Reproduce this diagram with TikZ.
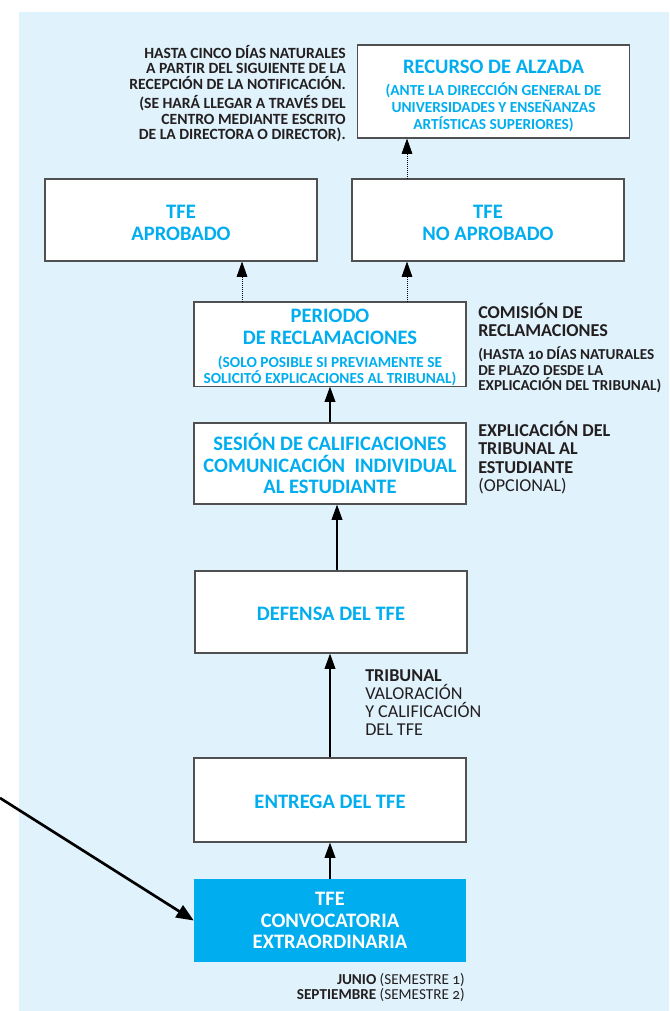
\documentclass[tikz,border=0pt]{standalone}
\usepackage{fontspec}
\setmainfont{Carlito}[Numbers=OldStyle]
\usetikzlibrary{arrows.meta,calc}
\definecolor{bgblue}{RGB}{224,242,252}
\definecolor{cyantext}{RGB}{0,174,239}
\definecolor{boxfill}{RGB}{0,174,239}
\definecolor{ink}{RGB}{35,31,32}
\definecolor{frame}{RGB}{80,80,80}
\newcommand\bigf{\fontsize{15.4}{16.2}\selectfont}
\newcommand\smallf{\fontsize{11.5}{12.2}\selectfont}
\newcommand\midf{\fontsize{13.6}{13.7}\selectfont}
\newcommand\notef{\fontsize{11.4}{11.6}\selectfont}
\newcommand\pushdown[1]{\rule{0pt}{#1}}
\begin{document}
\begin{tikzpicture}[x=0.75pt,y=-0.75pt,
  box/.style={draw=frame, line width=0.8pt, fill=white, minimum width=204pt,
    minimum height=61.5pt, inner sep=0pt, align=center, text=cyantext,
    font=\bfseries\bigf},
  bluebox/.style={fill=boxfill, minimum width=204pt, minimum height=62.25pt,
    inner sep=0pt, align=center, text=white, font=\bfseries\bigf},
  note/.style={inner sep=0pt, text=ink, font=\bfseries\notef},
  side/.style={inner sep=0pt, text=ink, align=left, anchor=north west},
  solidarrow/.style={draw=black, line width=1.2pt, -{Triangle[length=11.5pt,width=8pt]}},
  dotarrow/.style={draw=black, line width=0.6pt, dash pattern=on 0.6pt off 0.9pt,
    -{Triangle[length=11.5pt,width=8pt]}},
  bigarrow/.style={draw=black, line width=2pt, -{Triangle[length=13pt,width=10.5pt]}}
]
\useasboundingbox (0,0) rectangle (669,1011);
\fill[bgblue] (19,12) rectangle (669,1011);

% boxes
\node[box, minimum height=69.75pt] (recurso) at (493.5,91.5)
  {\pushdown{17pt}RECURSO DE ALZADA\\[0pt]
   {\smallf (ANTE LA DIRECCIÓN GENERAL DE}\\[-3.5pt]
   {\smallf UNIVERSIDADES Y ENSEÑANZAS}\\[-3.5pt]
   {\smallf ARTÍSTICAS SUPERIORES)}};
\node[box] (aprob) at (181,220) {\pushdown{14pt}TFE\\APROBADO};
\node[box] (noaprob) at (488,220) {\pushdown{14pt}TFE\\NO APROBADO};
\node[box] (periodo) at (330,344)
  {\pushdown{15.5pt}PERIODO\\DE RECLAMACIONES\\[1pt]
   {\smallf (SOLO POSIBLE SI PREVIAMENTE SE}\\[-3.8pt]
   {\smallf SOLICITÓ EXPLICACIONES AL TRIBUNAL)}};
\node[box, minimum height=60.75pt] (sesion) at (330,463.5)
  {SESIÓN DE CALIFICACIONES\\COMUNICACIÓN\ \ INDIVIDUAL\\AL ESTUDIANTE};
\node[box] (defensa) at (331,612) {\pushdown{13pt}DEFENSA DEL TFE};
\node[box, minimum height=63pt] (entrega) at (330,800) {\pushdown{13pt}ENTREGA DEL TFE};
\node[bluebox] (conv) at (330,920.5) {TFE\\CONVOCATORIA\\EXTRAORDINARIA};

% side texts
\node[note, align=right, anchor=north east, font=\bfseries\fontsize{11.7}{11.6}\selectfont] (plazo) at (346,45)
  {HASTA CINCO DÍAS NATURALES\\A PARTIR DEL SIGUIENTE DE LA\\RECEPCIÓN DE LA NOTIFICACIÓN.\\[3pt]
   (SE HARÁ LLEGAR A TRAVÉS DEL\\CENTRO MEDIANTE ESCRITO\\DE LA DIRECTORA O DIRECTOR).};
\node[side, font=\bfseries\midf] (comision) at (478,303)
  {COMISIÓN DE\\RECLAMACIONES\\[3.5pt]
   {\notef (HASTA 10 DÍAS NATURALES}\\[-2pt]
   {\notef DE PLAZO DESDE LA}\\[-2pt]
   {\notef EXPLICACIÓN DEL TRIBUNAL)}};
\node[side, font=\midf] (explic) at (478,421)
  {\textbf{EXPLICACIÓN DEL}\\\textbf{TRIBUNAL AL}\\\textbf{ESTUDIANTE}\\(OPCIONAL)};
\node[side, font=\midf] (tribunal) at (365,669)
  {\textbf{TRIBUNAL}\\VALORACIÓN\\Y CALIFICACIÓN\\DEL TFE};
\node[note, align=right, anchor=north east, font=\notef] (junio) at (465,973)
  {\textbf{JUNIO} (SEMESTRE 1)\\\textbf{SEPTIEMBRE} (SEMESTRE 2)};

% connectors
\coordinate (xa) at (242,0);
\coordinate (xb) at (407,0);
\coordinate (xc) at (337,0);
\coordinate (start) at (0,798);
\draw[solidarrow] (conv.north) -- (entrega.south);
\draw[solidarrow] (entrega.north) -- (defensa.south -| entrega.north);
\draw[solidarrow] (defensa.north -| xc) -- (sesion.south -| xc);
\draw[solidarrow] (sesion.north) -- (periodo.south);
\draw[dotarrow] (periodo.north -| xa) -- (aprob.south -| xa);
\draw[dotarrow] (periodo.north -| xb) -- (noaprob.south -| xb);
\draw[dotarrow] (noaprob.north -| xb) -- (recurso.south -| xb);
\draw[bigarrow] (start) -- (conv.west);
\end{tikzpicture}
\end{document}
